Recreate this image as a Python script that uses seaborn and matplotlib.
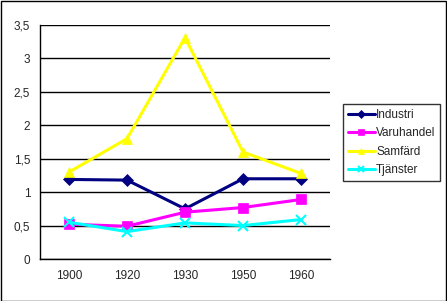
import matplotlib
matplotlib.use("Agg")
import matplotlib.pyplot as plt
import seaborn as sns
import pandas as pd
from matplotlib.patches import Rectangle
from matplotlib.ticker import FuncFormatter, FixedLocator

years = ["1900", "1920", "1930", "1950", "1960"]
industri = [1.19, 1.18, 0.75, 1.20, 1.20]
varuhandel = [0.52, 0.49, 0.70, 0.77, 0.89]
samfard = [1.30, 1.80, 3.31, 1.60, 1.28]
tjanster = [0.55, 0.41, 0.54, 0.50, 0.59]

series = {"Industri": industri, "Varuhandel": varuhandel,
          "Samfärd": samfard, "Tjänster": tjanster}
colors = {"Industri": "#000080", "Varuhandel": "#FF00FF",
          "Samfärd": "#FFFF00", "Tjänster": "#00FFFF"}
markers = {"Industri": "D", "Varuhandel": "s", "Samfärd": "^", "Tjänster": "x"}
msizes = {"Industri": 6, "Varuhandel": 7, "Samfärd": 7, "Tjänster": 7}

rows = []
for name, vals in series.items():
    for i, (y, v) in enumerate(zip(years, vals)):
        rows.append({"pos": i, "year": y, "value": v, "serie": name})
df = pd.DataFrame(rows)

sns.set_style("white")
plt.rcParams["font.family"] = ["Liberation Sans", "DejaVu Sans"]

fig = plt.figure(figsize=(4.47, 3.01), dpi=100)
ax = fig.add_axes([40 / 447, (301 - 259) / 301, 290 / 447, 234 / 301])

for name in series:
    sub = df[df.serie == name]
    sns.lineplot(data=sub, x="pos", y="value", ax=ax, color=colors[name],
                 marker=markers[name], markersize=msizes[name], linewidth=2.2,
                 markeredgecolor=colors[name], markeredgewidth=1.5 if name == "Tjänster" else 0.5,
                 label=name, legend=False)

ax.set_xlim(-0.5, 4.5)
ax.set_ylim(0, 3.5)
ax.set_yticks([0, 0.5, 1, 1.5, 2, 2.5, 3, 3.5])
ax.yaxis.set_major_formatter(FuncFormatter(lambda v, p: f"{v:g}".replace(".", ",")))
ax.set_xticks(range(len(years)))
ax.set_xticklabels(years)
ax.xaxis.set_minor_locator(FixedLocator([-0.5, 0.5, 1.5, 2.5, 3.5, 4.5]))
ax.tick_params(axis="x", which="major", length=0, pad=8, labelsize=8.5)
ax.tick_params(axis="x", which="minor", length=4, width=1, color="black", direction="out")
ax.tick_params(axis="y", which="major", length=4, width=1, color="black", direction="out", labelsize=8.5, pad=3)
ax.set_xlabel("")
ax.set_ylabel("")
ax.grid(axis="y", color="black", linewidth=1)
ax.set_axisbelow(True)
for s in ["top", "right"]:
    ax.spines[s].set_visible(False)
for s in ["left", "bottom"]:
    ax.spines[s].set_color("black")
    ax.spines[s].set_linewidth(1)

handles, labels = ax.get_legend_handles_labels()
leg = fig.legend(handles, labels, loc="upper left",
                 bbox_to_anchor=(343 / 447, 1 - 104 / 301), fontsize=8.5,
                 frameon=True, fancybox=False, edgecolor="black",
                 borderpad=0.4, handlelength=2.3, handletextpad=0.1,
                 labelspacing=0.55, borderaxespad=0)
leg.get_frame().set_linewidth(1)
for h in leg.legend_handles:
    h.set_markersize(4)

fig.patches.append(Rectangle((0.5 / 447, 0.5 / 301), 445.5 / 447, 299.5 / 301,
                             transform=fig.transFigure, fill=False,
                             edgecolor="black", linewidth=1))

fig.savefig("out.png", dpi=100)
